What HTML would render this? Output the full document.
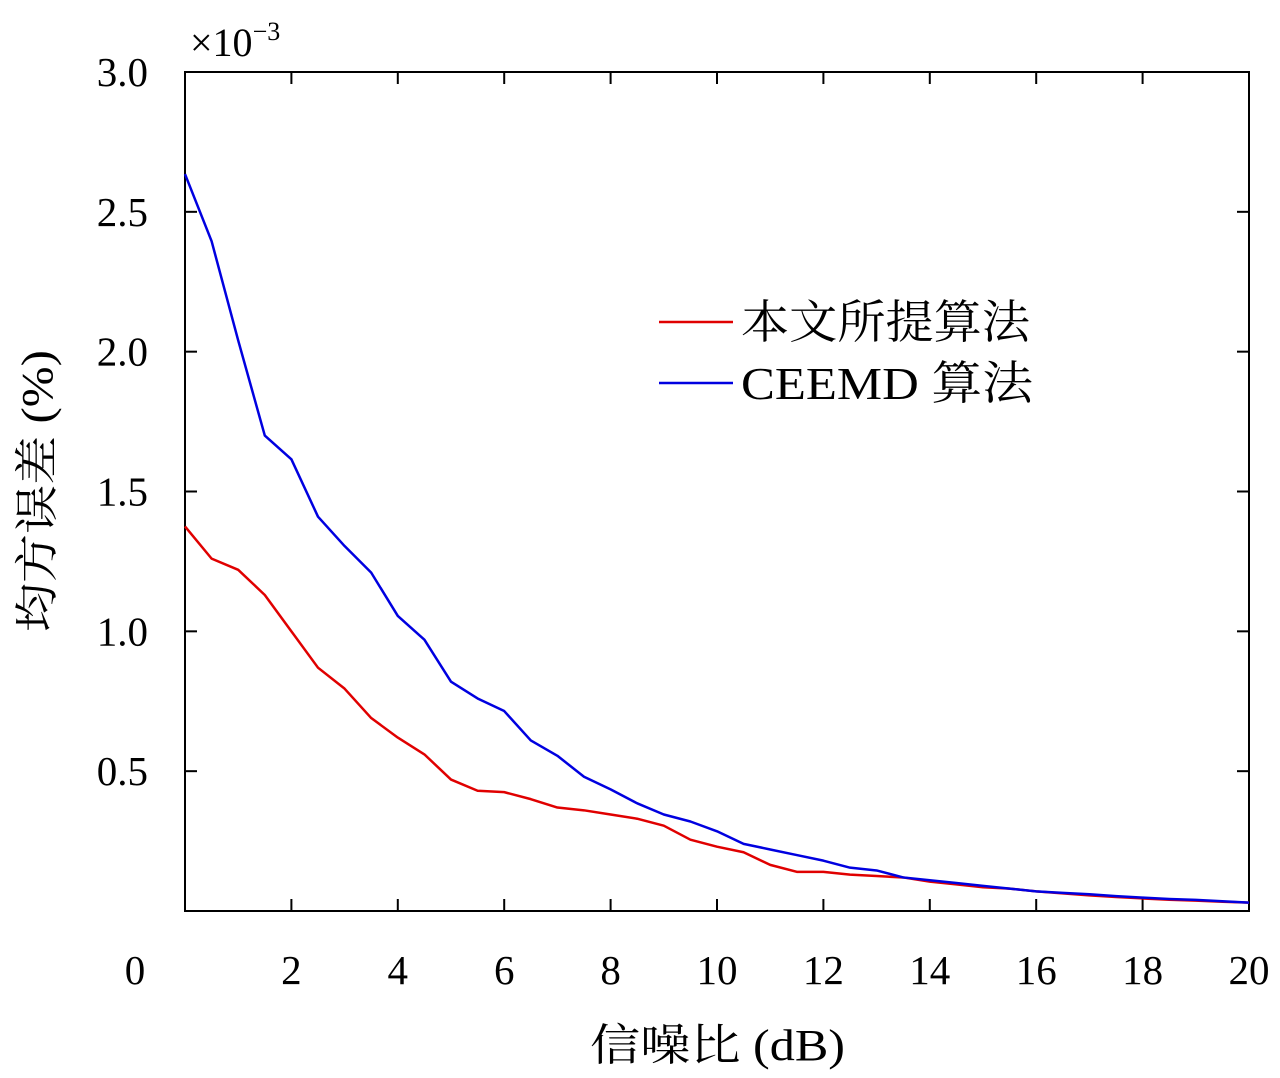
<!DOCTYPE html>
<html><head><meta charset="utf-8"><style>
body{margin:0;background:#fff}
svg text{font-family:"Liberation Serif","Noto Serif CJK SC",serif;fill:#000}
</style></head><body>
<svg id="chart" width="1280" height="1073" viewBox="0 0 1280 1073" xmlns="http://www.w3.org/2000/svg">
<g id="axes"></g>
<g id="series"></g>
<text x="190" y="56" font-size="40">×10<tspan font-size="26" dy="-16">−3</tspan></text>
<text x="590" y="1060" font-size="44" textLength="255" lengthAdjust="spacingAndGlyphs">信噪比 (dB)</text>
<text transform="translate(52,632) rotate(-90)" font-size="44" textLength="282" lengthAdjust="spacingAndGlyphs">均方误差 (%)</text>
<g>
<line x1="659" y1="322" x2="733" y2="322" stroke="#e00000" stroke-width="2.5"/>
<text x="741" y="338" font-size="46" textLength="289" lengthAdjust="spacingAndGlyphs">本文所提算法</text>
<line x1="659" y1="383" x2="733" y2="383" stroke="#0000e0" stroke-width="2.5"/>
<text x="741" y="399" font-size="46" textLength="292" lengthAdjust="spacingAndGlyphs">CEEMD 算法</text>
</g>
</svg>
<script>
const xValues=[0,0.5,1,1.5,2,2.5,3,3.5,4,4.5,5,5.5,6,6.5,7,7.5,8,8.5,9,9.5,10,10.5,11,11.5,12,12.5,13,13.5,14,14.5,15,15.5,16,16.5,17,17.5,18,18.5,19,19.5,20];
const proposed=[1.375,1.26,1.22,1.13,1.0,0.87,0.795,0.69,0.62,0.56,0.47,0.43,0.425,0.40,0.37,0.36,0.345,0.33,0.305,0.255,0.23,0.21,0.165,0.14,0.14,0.13,0.125,0.12,0.105,0.095,0.085,0.08,0.07,0.063,0.056,0.05,0.045,0.04,0.037,0.033,0.03];
const ceemd=[2.635,2.395,2.04,1.70,1.615,1.41,1.305,1.21,1.055,0.97,0.82,0.76,0.715,0.61,0.555,0.48,0.435,0.385,0.345,0.32,0.285,0.24,0.22,0.20,0.18,0.155,0.145,0.12,0.11,0.10,0.09,0.08,0.07,0.065,0.06,0.053,0.048,0.043,0.04,0.035,0.03];
const xTicks=[0,2,4,6,8,10,12,14,16,18,20];
const yTicks=[0.5,1.0,1.5,2.0,2.5,3.0];
const yTickLabels=["0.5","1.0","1.5","2.0","2.5","3.0"];
const L=185,R=1249,T=72,B=911;
const xs=v=>L+(R-L)*v/20, ys=v=>B-(B-T)*v/3;
const NS="http://www.w3.org/2000/svg";
function mk(tag,attrs,parent){const e=document.createElementNS(NS,tag);for(const k in attrs)e.setAttribute(k,attrs[k]);parent.appendChild(e);return e;}
const ax=document.getElementById('axes');
const frame=mk('rect',{x:L,y:T,width:R-L,height:B-T,fill:'none',stroke:'#000','stroke-width':2},ax);


xTicks.forEach(v=>{
  const x=xs(v);
  if(v>0&&v<20){
    const t1=mk('line',{x1:x,y1:B,x2:x,y2:B-12,stroke:'#000','stroke-width':2},ax);
    
    
    const t2=mk('line',{x1:x,y1:T,x2:x,y2:T+12,stroke:'#000','stroke-width':2},ax);
    
    
  }
  const lb=mk('text',{x:(v===0?x-50:x),y:984,'font-size':41,'text-anchor':'middle'},ax);
  lb.textContent=String(v);
  
  
});
yTicks.forEach((v,i)=>{
  const y=ys(v);
  if(v<3){
    const t1=mk('line',{x1:L,y1:y,x2:L+12,y2:y,stroke:'#000','stroke-width':2},ax);
    
    
    const t2=mk('line',{x1:R,y1:y,x2:R-12,y2:y,stroke:'#000','stroke-width':2},ax);
    
    
  }
  const lb=mk('text',{x:148,y:y+14,'font-size':41,'text-anchor':'end'},ax);
  lb.textContent=yTickLabels[i];
  
  
});
const sg=document.getElementById('series');
function line(data,color,name){
  const p=mk('polyline',{points:data.map((v,i)=>xs(xValues[i])+','+ys(v)).join(' '),fill:'none',stroke:color,'stroke-width':2.5,'stroke-linejoin':'round'},sg);
  
  
}
line(proposed,'#e00000','line-proposed');
line(ceemd,'#0000e0','line-ceemd');
</script>
</body></html>
